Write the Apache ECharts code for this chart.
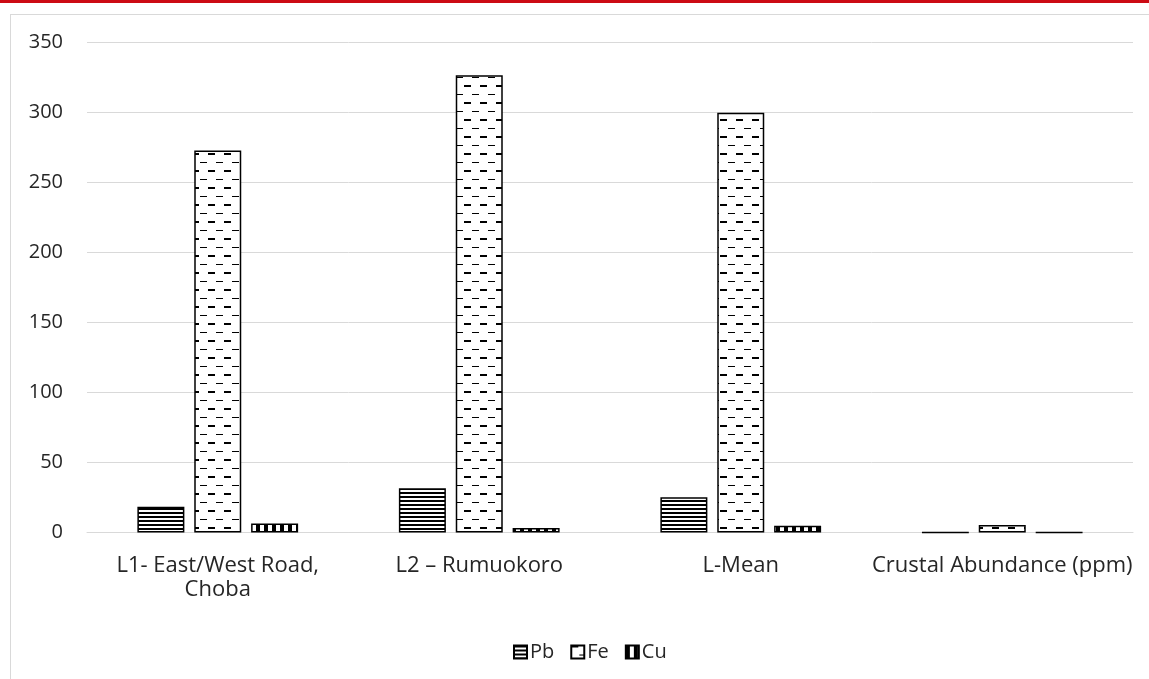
<!DOCTYPE html>
<html>
<head>
<meta charset="utf-8">
<script src="https://cdn.jsdelivr.net/npm/echarts@6/dist/echarts.min.js"></script>
<style>
  html, body { margin: 0; padding: 0; background: #ffffff; }
  #topbar { position: absolute; left: 0; top: 0; width: 1149px; height: 3px; background: #cc0a14; }
  #frame { position: absolute; left: 10px; top: 14px; width: 1160px; height: 700px; border: 1px solid #d9d9d9; }
  #chart { position: absolute; left: 0; top: 0; width: 1149px; height: 679px; }
</style>
</head>
<body>
<div id="topbar"></div>
<div id="frame"></div>
<div id="chart"></div>
<script>
// Heavy metal concentrations by location
const categories = ['L1- East/West Road,\nChoba', 'L2 – Rumuokoro', 'L-Mean', 'Crustal Abundance (ppm)'];
const seriesNames = ['Pb', 'Fe', 'Cu'];
const pbValues = [18.4, 31.6, 25.1, 0.1];
const feValues = [272.5, 326.3, 299.5, 5.4];
const cuValues = [6.4, 3.3, 4.8, 0.1];
const yTicks = { min: 0, max: 350, interval: 50 };

// Fill patterns drawn onto small tiles
function tile(w, h, draw) {
  const c = document.createElement('canvas');
  c.width = w; c.height = h;
  const g = c.getContext('2d');
  g.fillStyle = '#ffffff';
  g.fillRect(0, 0, w, h);
  g.fillStyle = '#000000';
  draw(g);
  return { image: c, repeat: 'repeat' };
}
const hLines = tile(4, 4, g => { g.fillRect(0, 0, 4, 2); });
const dashes = tile(16, 17, g => { g.fillRect(0, 0, 7, 2); g.fillRect(8, 9, 7, 1); });
const vLines = tile(8, 8, g => { g.fillRect(0, 0, 4, 8); });

const fills = [hLines, dashes, vLines];
const values = [pbValues, feValues, cuValues];
const FONT = '"Open Sans", sans-serif';
const TEXT = '#262626';

const chart = echarts.init(document.getElementById('chart'));
chart.setOption({
  animation: false,
  grid: { left: 87, right: 16, top: 42, bottom: 146.5 },
  legend: {
    data: seriesNames,
    left: 508, top: 637,
    itemWidth: 13, itemHeight: 13, itemGap: 16,
    icon: 'rect',
    textStyle: { fontFamily: FONT, fontSize: 20, color: TEXT, padding: [0, 0, 0, -2] }
  },
  xAxis: {
    type: 'category',
    data: categories,
    axisLine: { lineStyle: { color: '#d9d9d9', width: 1 } },
    axisTick: { show: false },
    axisLabel: { fontFamily: FONT, fontSize: 22, color: TEXT, margin: 21, lineHeight: 24, interval: 0 }
  },
  yAxis: {
    type: 'value',
    min: yTicks.min, max: yTicks.max, interval: yTicks.interval,
    axisLine: { show: false },
    axisTick: { show: false },
    splitLine: { lineStyle: { color: '#d9d9d9', width: 1 } },
    axisLabel: { fontFamily: FONT, fontSize: 20, color: TEXT, margin: 24 }
  },
  series: seriesNames.map((name, i) => ({
    name: name,
    type: 'bar',
    data: values[i],
    barWidth: 47,
    barGap: '21%',
    itemStyle: { color: fills[i], borderColor: '#000000', borderWidth: 1.5 }
  }))
});
</script>
</body>
</html>
